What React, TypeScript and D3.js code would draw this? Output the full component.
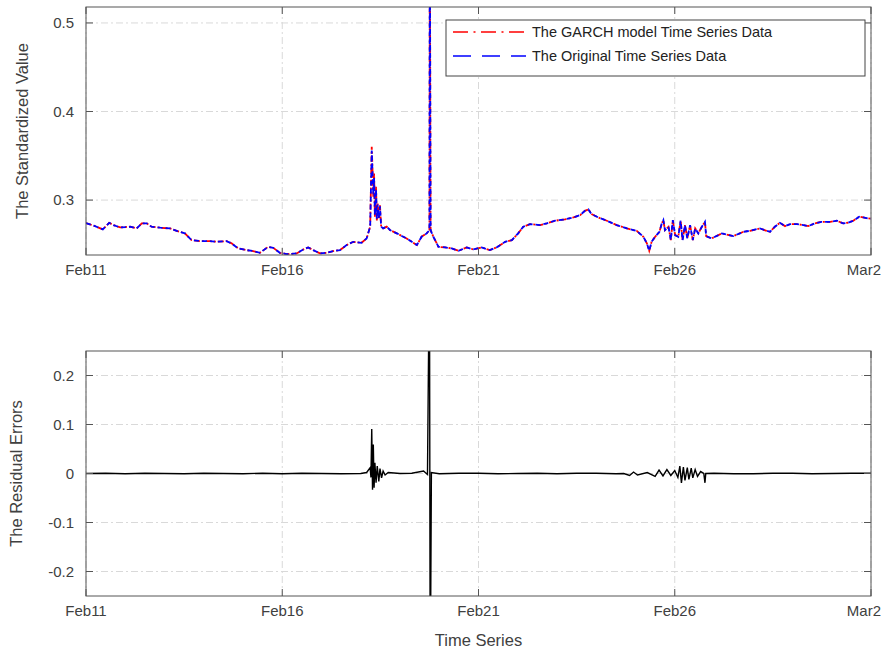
import React from "react";
import * as d3 from "d3";

// ---- Data ----
// time in days since Feb 11
const seriesDays = [
  0.00, 0.02, 0.23, 0.43, 0.59, 0.70, 0.87, 1.12, 1.29, 1.42, 1.55, 1.67, 1.89, 2.14, 2.31, 2.52,
  2.69, 2.90, 3.16, 3.33, 3.58, 3.71, 3.88, 4.09, 4.26, 4.43, 4.64, 4.77, 4.94, 5.11, 5.37, 5.54,
  5.66, 5.79, 5.96, 6.13, 6.30, 6.47, 6.64, 6.81, 7.02, 7.15, 7.24, 7.28, 7.30, 7.32, 7.34, 7.36,
  7.39, 7.41, 7.43, 7.46, 7.49, 7.52, 7.57, 7.66, 7.75, 7.92, 8.17, 8.43, 8.55, 8.68, 8.75, 8.76,
  8.78, 8.85, 8.98, 9.15, 9.32, 9.49, 9.70, 9.87, 10.08, 10.29, 10.46, 10.68, 10.85, 11.01, 11.14, 11.31,
  11.57, 11.74, 11.95, 12.20, 12.42, 12.59, 12.71, 12.80, 12.88, 13.05, 13.27, 13.52, 13.78, 14.03, 14.20, 14.29,
  14.35, 14.41, 14.50, 14.61, 14.67, 14.71, 14.75, 14.84, 14.90, 14.95, 15.01, 15.09, 15.15, 15.20, 15.26, 15.32,
  15.39, 15.46, 15.52, 15.60, 15.69, 15.77, 15.80, 15.94, 16.20, 16.49, 16.75, 16.92, 17.17, 17.34, 17.43, 17.55,
  17.68, 17.81, 17.94, 18.11, 18.28, 18.40, 18.57, 18.74, 18.96, 19.13, 19.29, 19.41, 19.55, 19.70, 19.80, 19.93,
  20.00,
];

const originalValues = [
  0.2740, 0.2737, 0.2706, 0.2669, 0.2744, 0.2718, 0.2691, 0.2699, 0.2680, 0.2737, 0.2737, 0.2699, 0.2688, 0.2680, 0.2653, 0.2624,
  0.2548, 0.2537, 0.2537, 0.2529, 0.2537, 0.2511, 0.2454, 0.2435, 0.2424, 0.2405, 0.2472, 0.2461, 0.2405, 0.2390, 0.2398, 0.2443,
  0.2466, 0.2435, 0.2398, 0.2405, 0.2424, 0.2435, 0.2492, 0.2529, 0.2518, 0.2567, 0.2699, 0.3560, 0.3300, 0.3060, 0.3250, 0.2830,
  0.3120, 0.2790, 0.2950, 0.2800, 0.2930, 0.2700, 0.2680, 0.2700, 0.2660, 0.2624, 0.2567, 0.2492, 0.2586, 0.2624, 0.2660, 0.6200,
  0.2660, 0.2586, 0.2472, 0.2466, 0.2454, 0.2427, 0.2466, 0.2443, 0.2466, 0.2435, 0.2466, 0.2529, 0.2548, 0.2624, 0.2699, 0.2729,
  0.2718, 0.2737, 0.2767, 0.2782, 0.2804, 0.2830, 0.2879, 0.2895, 0.2842, 0.2804, 0.2767, 0.2718, 0.2680, 0.2653, 0.2586, 0.2511,
  0.2427, 0.2529, 0.2586, 0.2642, 0.2737, 0.2774, 0.2660, 0.2699, 0.2548, 0.2774, 0.2605, 0.2586, 0.2767, 0.2548, 0.2718, 0.2567,
  0.2718, 0.2548, 0.2680, 0.2624, 0.2699, 0.2755, 0.2593, 0.2567, 0.2624, 0.2593, 0.2642, 0.2653, 0.2680, 0.2653, 0.2642, 0.2699,
  0.2744, 0.2706, 0.2729, 0.2729, 0.2718, 0.2706, 0.2737, 0.2755, 0.2755, 0.2767, 0.2737, 0.2744, 0.2767, 0.2812, 0.2804, 0.2793,
  0.2790,
];

const garchValues = [
  0.2740, 0.2737, 0.2706, 0.2669, 0.2744, 0.2718, 0.2691, 0.2699, 0.2680, 0.2737, 0.2737, 0.2699, 0.2688, 0.2680, 0.2653, 0.2624,
  0.2548, 0.2537, 0.2537, 0.2529, 0.2537, 0.2511, 0.2454, 0.2435, 0.2424, 0.2405, 0.2472, 0.2461, 0.2405, 0.2390, 0.2398, 0.2443,
  0.2466, 0.2435, 0.2398, 0.2405, 0.2424, 0.2435, 0.2492, 0.2529, 0.2518, 0.2567, 0.2699, 0.3603, 0.3340, 0.3037, 0.3300, 0.2810,
  0.3150, 0.2770, 0.2960, 0.2790, 0.2940, 0.2700, 0.2680, 0.2700, 0.2660, 0.2624, 0.2567, 0.2492, 0.2586, 0.2624, 0.2660, 0.6200,
  0.2660, 0.2586, 0.2472, 0.2466, 0.2454, 0.2427, 0.2466, 0.2443, 0.2466, 0.2435, 0.2466, 0.2529, 0.2548, 0.2624, 0.2699, 0.2729,
  0.2718, 0.2737, 0.2767, 0.2782, 0.2804, 0.2830, 0.2879, 0.2895, 0.2842, 0.2804, 0.2767, 0.2718, 0.2680, 0.2653, 0.2586, 0.2511,
  0.2427, 0.2529, 0.2586, 0.2642, 0.2737, 0.2774, 0.2660, 0.2699, 0.2548, 0.2774, 0.2605, 0.2586, 0.2767, 0.2548, 0.2718, 0.2567,
  0.2718, 0.2548, 0.2680, 0.2624, 0.2699, 0.2755, 0.2593, 0.2567, 0.2624, 0.2593, 0.2642, 0.2653, 0.2680, 0.2653, 0.2642, 0.2699,
  0.2744, 0.2706, 0.2729, 0.2729, 0.2718, 0.2706, 0.2737, 0.2755, 0.2755, 0.2767, 0.2737, 0.2744, 0.2767, 0.2812, 0.2804, 0.2793,
  0.2790,
];

const residualDays = [
  0, 0.5, 1, 1.5, 2, 2.5, 3, 3.5, 4, 4.5, 5, 5.5, 6, 6.5, 7, 7.15, 7.24, 7.26, 7.28, 7.30, 7.32, 7.34, 7.36, 7.39,
  7.42, 7.46, 7.49, 7.53, 7.57, 7.62, 7.70, 8.0, 8.3, 8.6, 8.7, 8.75, 8.77, 8.80, 9.0, 9.5, 10, 10.5, 11, 11.5,
  12, 12.5, 13, 13.5, 13.7, 13.85, 13.95, 14.05, 14.3, 14.5, 14.6, 14.7, 14.8, 14.9, 15.0, 15.08, 15.13, 15.17,
  15.22, 15.26, 15.32, 15.36, 15.42, 15.46, 15.52, 15.58, 15.66, 15.74, 15.77, 15.79, 16, 16.5, 17, 17.5, 18,
  18.5, 19, 19.5, 20,
];

const residualValues = [
  0, 0.0005, -0.0005, 0.0005, 0, -0.0005, 0.0005, 0, -0.0005, 0.0005, -0.0005, 0.0005, 0, -0.0005, 0, 0.002, 0.012, -0.008,
  0.091, -0.033, 0.059, -0.029, 0.022, -0.019, 0.015, -0.016, 0.010, -0.009, 0.005, -0.003, 0.002, 0, 0.0005, 0.005,
  -0.002, 0.45, -0.45, 0.002, -0.0005, 0.0005, 0.0005, -0.0005, 0, 0.0005, -0.0005, 0.0005, 0.0005, -0.0005, 0, -0.004,
  0.003, -0.003, 0.002, -0.006, 0.007, -0.005, 0.008, -0.004, 0.006, -0.008, 0.015, -0.019, 0.013, -0.014, 0.012,
  -0.012, 0.011, -0.009, 0.008, -0.006, 0.004, 0, -0.019, 0, 0.0005, -0.0005, -0.0005, 0.0005, 0.0005, -0.0005, 0, 0.0005,
  0.0005,
];

const xTickDays = [0, 5, 10, 15, 20];
const topYTicks = [0.3, 0.4, 0.5];
const bottomYTicks = [-0.2, -0.1, 0, 0.1, 0.2];
const yTickLabelsBottom = ["-0.2", "-0.1", "0", "0.1", "0.2"];
const legendLabels = ["The GARCH model Time Series Data", "The Original Time Series Data"];

const START = new Date(2020, 1, 11);
const END = new Date(2020, 2, 2);
const toDate = (d: number) => new Date(START.getTime() + d * 86400000);

const FONT = "'Liberation Sans', Arial, Helvetica, sans-serif";
const TICK_COLOR = "#404040";
const AXIS_COLOR = "#555555";
const GRID_COLOR = "#d9d9d9";

const L = 86, R = 871;

function Axes({ top, bottom, yDomain, yTicks, yLabels, clipId, children, ylabel, ylabelX }: any) {
  const x = d3.scaleTime().domain([START, END]).range([L, R]);
  const y = d3.scaleLinear().domain(yDomain).range([bottom, top]);
  const xTicks = xTickDays.map(toDate);
  const fmt = d3.timeFormat("%b%-d");
  const tl = 7;
  return (
    <g>
      <defs>
        <clipPath id={clipId}>
          <rect x={L} y={top} width={R - L} height={bottom - top} />
        </clipPath>
      </defs>
      {xTicks.map((t, i) => (
        <line key={"gx" + i} x1={x(t)} x2={x(t)} y1={top} y2={bottom} stroke={GRID_COLOR} strokeWidth={1} strokeDasharray="7,3,2,3" />
      ))}
      {yTicks.map((v: number, i: number) => (
        <line key={"gy" + i} x1={L} x2={R} y1={y(v)} y2={y(v)} stroke={GRID_COLOR} strokeWidth={1} strokeDasharray="7,3,2,3" />
      ))}
      <g clipPath={`url(#${clipId})`}>{children(x, y)}</g>
      <rect x={L} y={top} width={R - L} height={bottom - top} fill="none" stroke={AXIS_COLOR} strokeWidth={1} />
      {xTicks.map((t, i) => {
        const last = i === xTicks.length - 1;
        return (
          <g key={"tx" + i}>
            <line x1={x(t)} x2={x(t)} y1={bottom} y2={bottom - tl} stroke={AXIS_COLOR} />
            <line x1={x(t)} x2={x(t)} y1={top} y2={top + tl} stroke={AXIS_COLOR} />
            <text
              x={last ? 881 : x(t)}
              y={bottom + 20}
              textAnchor={last ? "end" : "middle"}
              fontSize={15}
              fill={TICK_COLOR}
              fontFamily={FONT}
            >
              {fmt(t)}
            </text>
          </g>
        );
      })}
      {yTicks.map((v: number, i: number) => (
        <g key={"ty" + i}>
          <line x1={L} x2={L + tl} y1={y(v)} y2={y(v)} stroke={AXIS_COLOR} />
          <line x1={R} x2={R - tl} y1={y(v)} y2={y(v)} stroke={AXIS_COLOR} />
          <text x={74} y={y(v) + 5} textAnchor="end" fontSize={15} fill={TICK_COLOR} fontFamily={FONT}>
            {yLabels[i]}
          </text>
        </g>
      ))}
      <text
        transform={`translate(${ylabelX},${(top + bottom) / 2}) rotate(-90)`}
        textAnchor="middle"
        fontSize={16.5}
        fill={TICK_COLOR}
        fontFamily={FONT}
      >
        {ylabel}
      </text>
    </g>
  );
}

export default function App() {
  const topPts = seriesDays.map((d, i) => ({ t: toDate(d), o: originalValues[i], g: garchValues[i] }));
  const resPts = residualDays.map((d, i) => ({ t: toDate(d), v: residualValues[i] }));
  return (
    <svg width={883} height={652} style={{ position: "absolute", left: 0, top: 0, background: "#fff" }}>
      <rect width={883} height={652} fill="#fff" />
      <Axes
        top={7}
        bottom={255}
        yDomain={[0.238, 0.518]}
        yTicks={topYTicks}
        yLabels={topYTicks.map((v) => v.toFixed(1))}
        clipId="clipTop"
        ylabel="The Standardized Value"
        ylabelX={28}
      >
        {(x: any, y: any) => {
          const lg = d3.line<any>().x((p) => x(p.t)).y((p) => y(p.g));
          const lo = d3.line<any>().x((p) => x(p.t)).y((p) => y(p.o));
          return (
            <g>
              <path d={lg(topPts)!} fill="none" stroke="#ff0000" strokeWidth={1.8} strokeDasharray="6,2,2,2" />
              <path d={lo(topPts)!} fill="none" stroke="#0000ff" strokeWidth={1.8} strokeDasharray="5,3" />
            </g>
          );
        }}
      </Axes>
      <Axes
        top={351}
        bottom={596}
        yDomain={[-0.25, 0.25]}
        yTicks={bottomYTicks}
        yLabels={yTickLabelsBottom}
        clipId="clipBottom"
        ylabel="The Residual Errors"
        ylabelX={22}
      >
        {(x: any, y: any) => {
          const lr = d3.line<any>().x((p) => x(p.t)).y((p) => y(p.v));
          return <path d={lr(resPts)!} fill="none" stroke="#000" strokeWidth={1.4} />;
        }}
      </Axes>
      <text x={(L + R) / 2} y={646} textAnchor="middle" fontSize={16.5} fill={TICK_COLOR} fontFamily={FONT}>
        Time Series
      </text>
      <g>
        <rect x={446} y={20} width={419} height={56} fill="#fff" stroke="#444" strokeWidth={1} />
        <line x1={453} x2={526} y1={32} y2={32} stroke="#ff0000" strokeWidth={1.5} strokeDasharray="15,5.5,2,5.5" />
        <text x={532} y={37} fontSize={14.5} fill="#222" fontFamily={FONT}>{legendLabels[0]}</text>
        <line x1={453} x2={526} y1={56} y2={56} stroke="#0000ff" strokeWidth={1.5} strokeDasharray="18,11" />
        <text x={532} y={61} fontSize={14.5} fill="#222" fontFamily={FONT}>{legendLabels[1]}</text>
      </g>
    </svg>
  );
}
